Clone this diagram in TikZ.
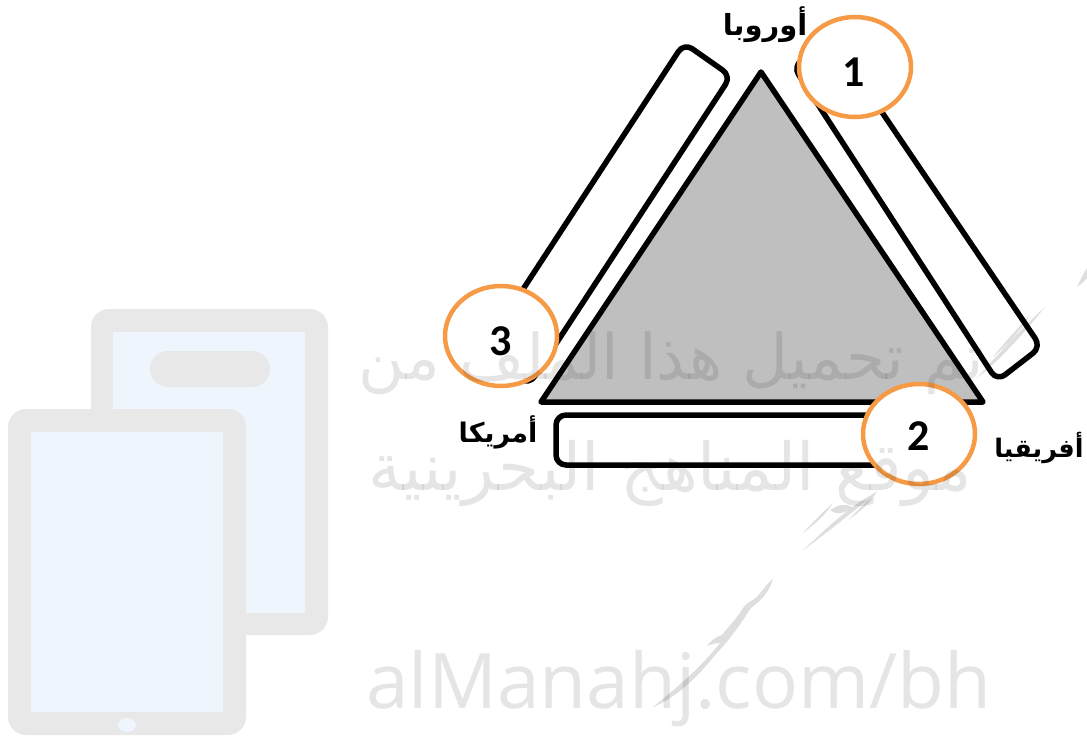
\documentclass[tikz,border=0pt]{standalone}
\usepackage{fontspec}
\usetikzlibrary{shapes.geometric}
\TeXXeTstate=1
\newfontfamily\arabicfont[Script=Arabic]{DejaVu Sans}
\newfontfamily\numfont{Carlito}
\newfontfamily\wmfont{Open Sans}
\definecolor{orangering}{HTML}{F79A46}
\definecolor{trifill}{HTML}{BFBFBF}
\definecolor{tabframe}{HTML}{E8E8E8}
\definecolor{tabscreen}{HTML}{EEF5FD}
\tikzset{
  barbox/.style={draw=black,line width=5.5pt,fill=white,rounded corners=10pt,line join=round},
  ring/.style={ellipse,draw=orangering,line width=4.5pt,fill=white,minimum width=112pt,minimum height=100pt,inner sep=0pt,text=black},
  ringnum/.style={inner sep=0pt,text=black,font=\numfont\bfseries\fontsize{44}{44}\selectfont},
  place/.style={inner sep=0pt,text=black},
  wmtext/.style={inner sep=0pt,text=black,opacity=.1,text opacity=.1},
  sliver/.style={fill=black,opacity=.13,draw=none}
}
\newcommand{\placefont}[1]{\arabicfont\bfseries\fontsize{#1}{#1}\selectfont}
\begin{document}
\begin{tikzpicture}[x=1pt,y=-1pt]
\useasboundingbox (0,0) rectangle (1087,738);
% tablets
\fill[tabframe,rounded corners=18pt] (91,309) rectangle (328,635);
\fill[tabscreen] (113,332) rectangle (305,613);
\fill[tabframe,rounded corners=18pt] (150,351) rectangle (270,387);
\fill[tabframe,rounded corners=18pt] (8,409) rectangle (246,735);
\fill[tabscreen] (31,432) rectangle (223,712);
\fill[tabscreen] (127,725) ellipse (9 and 7);
% bars
\draw[barbox] (684,43) -- (731,76) -- (529,385) -- (482,352) -- cycle;
\draw[barbox] (793,66) -- (833,40) -- (1041,347) -- (997,381) -- cycle;
\draw[barbox] (556,415) rectangle (910,465);
% triangle
\draw[draw=black,fill=trifill,line width=5.5pt,line join=round] (761,72) -- (983,402) -- (541,402) -- cycle;
% rings
\node[ring] (r1) at (855,67) {};
\node[ring] (r2) at (919,434) {};
\node[ring] (r3) at (501,336) {};
\node[ringnum] (n1) at (854,72) {1};
\node[ringnum] (n2) at (919,436) {2};
\node[ringnum] (n3) at (501,341) {3};
% labels
\node[place,font=\placefont{29}] (eu) at (765,25) {\beginR أوروبا\endR};
\node[place,font=\placefont{25.5}] (af) at (1039,448) {\beginR أفريقيا\endR};
\node[place,font=\placefont{27}] (am) at (498,432) {\beginR أمريكا\endR};
% watermark
\node[wmtext,font=\arabicfont\fontsize{63}{66}\selectfont] (w1) at (671,363) {\beginR تم تحميل هذا الملف من\endR};
\node[wmtext,font=\arabicfont\fontsize{66}{70}\selectfont] (w2) at (670,473) {\beginR موقع المناهج البحرينية\endR};
\node[wmtext,font=\wmfont\fontsize{76.5}{80}\selectfont] (w3) at (679,689) {alManahj.com/bh};
% pen slivers
\fill[sliver] (802,551) .. controls (825,530) and (850,505) .. (877,492) .. controls (855,510) and (828,532) .. (802,551) -- cycle;
\fill[sliver] (803,533) .. controls (813,522) and (823,512) .. (833,503) .. controls (825,515) and (815,524) .. (803,533) -- cycle;
\fill[sliver] (848,520) .. controls (858,510) and (868,500) .. (877,491) .. controls (870,503) and (860,512) .. (848,520) -- cycle;
\fill[sliver] (830,510) .. controls (838,505) and (845,503) .. (852,507) .. controls (845,514) and (836,515) .. (830,510) -- cycle;
\fill[sliver] (653,707) .. controls (680,685) and (700,668) .. (720,643) .. controls (714,643) and (710,645) .. (707,646) .. controls (711,640) and (716,637) .. (722,635) .. controls (730,625) and (737,618) .. (743,608) .. controls (746,604) and (750,601) .. (753,600) .. controls (760,595) and (765,585) .. (773,579) .. controls (770,590) and (763,598) .. (756,604) .. controls (750,608) and (748,612) .. (745,617) .. controls (735,632) and (725,645) .. (715,655) .. controls (695,680) and (675,698) .. (653,707) -- cycle;
\fill[sliver] (977,378) .. controls (1000,352) and (1022,328) .. (1045,307) .. controls (1025,332) and (1002,358) .. (977,378) -- cycle;
\fill[sliver] (993,357) .. controls (1005,342) and (1018,328) .. (1030,315) .. controls (1020,332) and (1006,346) .. (993,357) -- cycle;
\fill[sliver] (1077,287) .. controls (1080,280) and (1084,273) .. (1087,268) -- (1087,278) .. controls (1084,282) and (1080,285) .. (1077,287) -- cycle;
\end{tikzpicture}
\end{document}
